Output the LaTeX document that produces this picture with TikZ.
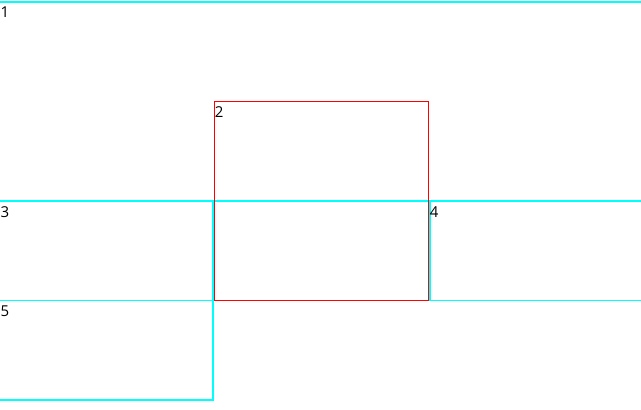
\documentclass[tikz,border=0pt]{standalone}
\usepackage{fontspec}
\setmainfont{Open Sans}
\usepackage{tikz}
\usetikzlibrary{positioning}
\definecolor{cCyan}{RGB}{0,255,255}
\definecolor{cRed}{RGB}{255,0,0}
\tikzset{
    cellbox/.style={rectangle, draw=cCyan, line width=1.6pt, inner sep=0pt, anchor=north west},
    focusbox/.style={rectangle, draw=cRed, line width=1.2pt, inner sep=0pt, anchor=north west},
    celltag/.style={anchor=north west, inner sep=0pt, font=\fontsize{15}{17}\selectfont, text=black},
}
\begin{document}
\begin{tikzpicture}[x=1pt, y=-1pt]
    \useasboundingbox (0,0) rectangle (641,410);
    \clip (0,0) rectangle (641,410);
    % cyan regions
    \node[cellbox, minimum width=645pt, minimum height=199pt] (c1) at (-2,1) {};
    \node[cellbox, minimum width=214pt, minimum height=99pt] (c3) at (-2,200.5) {};
    \node[cellbox, minimum width=214pt, minimum height=99pt] (c4) at (429.2,200.5) {};
    \node[cellbox, minimum width=214pt, minimum height=99.5pt] (c5) at (-2,299.5) {};
    % red region on top
    \node[focusbox, minimum width=214pt, minimum height=199pt] (c2) at (213.6,100.5) {};
    % tags
    \node[celltag] (t1) at ([xshift=2.5pt, yshift=-5.5pt]c1.north west) {1};
    \node[celltag] (t2) at ([xshift=1pt, yshift=-6pt]c2.north west) {2};
    \node[celltag] (t3) at ([xshift=2.5pt, yshift=-6pt]c3.north west) {3};
    \node[celltag] (t4) at ([xshift=0.5pt, yshift=-6pt]c4.north west) {4};
    \node[celltag] (t5) at ([xshift=2.5pt, yshift=-6pt]c5.north west) {5};
\end{tikzpicture}
\end{document}
